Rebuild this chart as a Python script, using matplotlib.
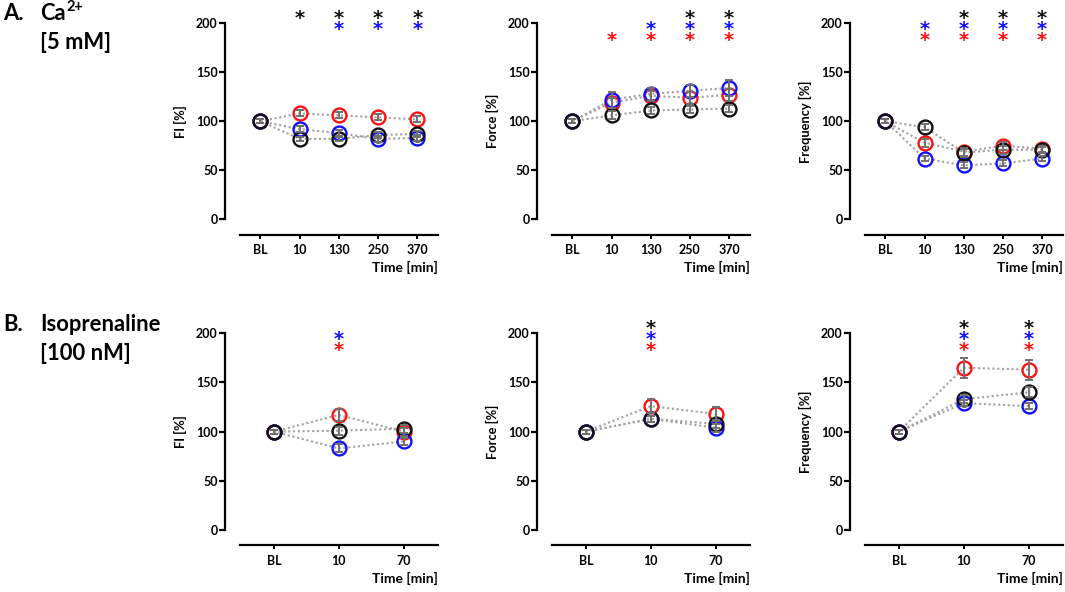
import numpy as np
import matplotlib
matplotlib.use("Agg")
import matplotlib.pyplot as plt

plt.rcParams['font.family'] = ['Lato', 'DejaVu Sans']

# x categories
ca_ticks = ["BL", "10", "130", "250", "370"]
iso_ticks = ["BL", "10", "70"]

# rows: red, blue, black
ca_fi = [[100, 108, 106, 104, 102],
         [100, 92, 88, 82, 83],
         [100, 82, 82, 86, 87]]
ca_fi_sem = [[2, 3, 3, 3, 3],
             [2, 3, 3, 3, 3],
             [2, 2, 2, 3, 3]]
ca_fi_sig = [[], [2, 3, 4], [1, 2, 3, 4]]

ca_force = [[100, 119, 126, 124, 127],
            [100, 122, 128, 131, 134],
            [100, 106, 111, 112, 113]]
ca_force_sem = [[2, 5, 5, 6, 6],
                [2, 8, 6, 6, 8],
                [2, 4, 4, 4, 4]]
ca_force_sig = [[1, 2, 3, 4], [2, 3, 4], [3, 4]]

ca_freq = [[100, 78, 69, 75, 72],
           [100, 62, 55, 57, 62],
           [100, 94, 68, 71, 71]]
ca_freq_sem = [[2, 4, 4, 4, 3],
               [2, 3, 3, 3, 3],
               [2, 3, 4, 4, 3]]
ca_freq_sig = [[1, 2, 3, 4], [1, 2, 3, 4], [2, 3, 4]]

iso_fi = [[100, 117, 100],
          [100, 83, 90],
          [100, 101, 103]]
iso_fi_sem = [[2, 6, 4],
              [2, 4, 4],
              [2, 4, 4]]
iso_fi_sig = [[1], [1], []]

iso_force = [[100, 126, 118],
             [100, 113, 104],
             [100, 113, 108]]
iso_force_sem = [[2, 7, 7],
                 [2, 3, 4],
                 [2, 3, 4]]
iso_force_sig = [[1], [1], [1]]

iso_freq = [[100, 165, 163],
            [100, 129, 126],
            [100, 133, 140]]
iso_freq_sem = [[2, 10, 10],
                [2, 3, 3],
                [2, 4, 5]]
iso_freq_sig = [[1, 2], [1, 2], [1, 2]]

colors = ['#ff1010', '#1010ff', '#111111']
star_y = [188.5, 199.5, 210]


def panel(ax, ticks, means, sems, sig, ylabel):
    x = np.arange(len(ticks))
    for m in means:
        ax.plot(x, m, color='#a0a0a0', linestyle=(0, (1, 1.3)), linewidth=1.5,
                zorder=1, clip_on=False)
    for m, s, c in zip(means, sems, colors):
        ax.plot(x, m, linestyle='none', marker='o', markersize=10,
                markerfacecolor='none', markeredgecolor=c, markeredgewidth=1.7,
                zorder=2, clip_on=False)
        ax.errorbar(x, m, yerr=s, fmt='none', ecolor='#707070', elinewidth=1.4,
                    capsize=3, capthick=1.4, zorder=3, clip_on=False)
    # significance stars
    for idx, c, sy in zip(sig, colors, star_y):
        for i in idx:
            ax.text(x[i], sy - 11.2, "*", color=c, ha='center', va='baseline',
                    fontsize=14, fontweight='bold', family='DejaVu Sans')
    ax.set_ylim(0, 200)
    ax.set_xlim(-0.52, len(ticks) - 0.48)
    ax.set_yticks([0, 50, 100, 150, 200])
    ax.set_xticks(x)
    ax.set_xticklabels(ticks)
    for sp in ['top', 'right']:
        ax.spines[sp].set_visible(False)
    ax.spines['left'].set_position(('outward', 11))
    ax.spines['bottom'].set_position(('outward', 11))
    ax.spines['left'].set_bounds(0, 200)
    ax.spines['left'].set_linewidth(1.6)
    ax.spines['bottom'].set_linewidth(1.6)
    ax.tick_params(axis='y', length=4, width=1.6, pad=1, labelsize=9)
    ax.tick_params(axis='x', length=3, width=1.4, pad=4, labelsize=9)
    for lab in ax.get_xticklabels() + ax.get_yticklabels():
        lab.set_fontweight('bold')
    ax.set_ylabel(ylabel, fontsize=9.3, fontweight='bold')
    ax.yaxis.set_label_coords(-0.27, 0.5)
    ax.text(1.0, -0.248, "Time [min]", transform=ax.transAxes, ha='right',
            va='center', fontsize=10, fontweight='bold')


fig = plt.figure(figsize=(10.65, 5.92), dpi=100)
lefts = [0.2254, 0.5183, 0.8122]
w = 0.1855
axA = [fig.add_axes([l, 0.6296, w, 0.3311]) for l in lefts]
axB = [fig.add_axes([l, 0.1047, w, 0.3323]) for l in lefts]

panel(axA[0], ca_ticks, ca_fi, ca_fi_sem, ca_fi_sig, "FI [%]")
panel(axA[1], ca_ticks, ca_force, ca_force_sem, ca_force_sig, "Force [%]")
panel(axA[2], ca_ticks, ca_freq, ca_freq_sem, ca_freq_sig, "Frequency [%]")
panel(axB[0], iso_ticks, iso_fi, iso_fi_sem, iso_fi_sig, "FI [%]")
panel(axB[1], iso_ticks, iso_force, iso_force_sem, iso_force_sig, "Force [%]")
panel(axB[2], iso_ticks, iso_freq, iso_freq_sem, iso_freq_sig, "Frequency [%]")

# row titles
tkw = dict(fontsize=15.8, fontweight='bold', va='center', ha='left')
fig.text(3 / 1065, 1 - 13.5 / 592, "A.", **tkw)
ca = fig.text(40 / 1065, 1 - 13.5 / 592, "Ca", **tkw)
axA[0].annotate("2+", xy=(1.02, 1.12), xycoords=ca, va='top', ha='left',
                fontsize=10.5, fontweight='bold')
fig.text(40 / 1065, 1 - 42.5 / 592, "[5 mM]", **tkw)
fig.text(3 / 1065, 1 - 324.5 / 592, "B.", **tkw)
fig.text(40 / 1065, 1 - 324.5 / 592, "Isoprenaline", **tkw)
fig.text(40 / 1065, 1 - 353 / 592, "[100 nM]", **tkw)

fig.savefig("out.png", dpi=100)
